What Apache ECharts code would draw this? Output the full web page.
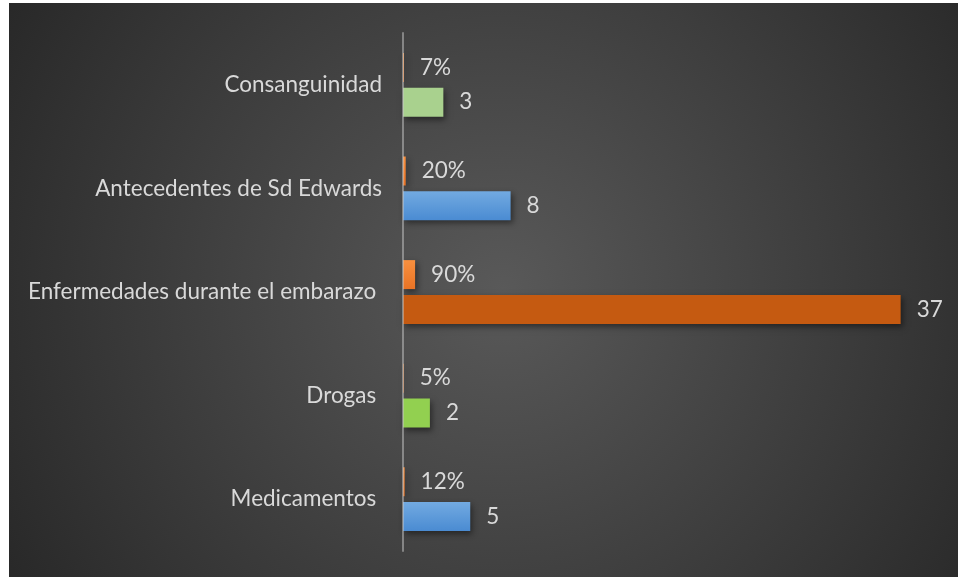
<!DOCTYPE html>
<html>
<head>
<meta charset="utf-8">
<script src="https://cdn.jsdelivr.net/npm/echarts@6/dist/echarts.min.js"></script>
<style>
  html, body { margin: 0; padding: 0; background: #ffffff; width: 958px; height: 577px; overflow: hidden; }
  #chart {
    position: absolute; left: 9px; top: 3px; width: 949px; height: 574px;
    background: radial-gradient(circle 600px at 52% 50%, #595959 0%, #3d3d3d 55%, #262626 100%);
  }
</style>
</head>
<body>
<div id="chart"></div>
<script>
// Factores de riesgo: casos y porcentaje
const categories = ['Consanguinidad', 'Antecedentes de Sd Edwards', 'Enfermedades durante el embarazo ', 'Drogas ', 'Medicamentos '];
const casos = [3, 8, 37, 2, 5];
const porcentajes = [7, 20, 90, 5, 12];

const blueGradient = { type: 'linear', x: 0, y: 0, x2: 0, y2: 1, colorStops: [{ offset: 0, color: '#72aae1' }, { offset: 1, color: '#4a8bd2' }] };
const caseColors = ['#a9d18e', blueGradient, '#c55a11', '#92d050', blueGradient];
const pctColor = { type: 'linear', x: 0, y: 0, x2: 0, y2: 1, colorStops: [{ offset: 0, color: '#f8903f' }, { offset: 1, color: '#e97325' }] };

const textColor = '#d9d9d9';
const fontFamily = 'Lato, "Open Sans", sans-serif';
const fontSize = 22.5;
const shadow = { shadowColor: 'rgba(0,0,0,0.45)', shadowBlur: 6, shadowOffsetX: 2, shadowOffsetY: 3 };

const chart = echarts.init(document.getElementById('chart'), null, { renderer: 'canvas' });
chart.setOption({
  backgroundColor: 'transparent',
  animation: false,
  grid: { left: 394, right: 17, top: 30, bottom: 26, containLabel: false },
  xAxis: {
    type: 'value', min: 0, max: 40,
    show: false
  },
  yAxis: {
    type: 'category',
    data: categories,
    inverse: true,
    z: 10,
    axisLine: { show: true, lineStyle: { color: 'rgba(200,200,200,0.5)', width: 2 } },
    axisTick: { show: false },
    axisLabel: { color: textColor, fontSize: fontSize, fontFamily: fontFamily, margin: 21 },
    splitLine: { show: false }
  },
  series: [
    {
      name: 'Porcentaje',
      type: 'bar',
      barWidth: 29,
      barGap: '20%',
      data: porcentajes.map(p => p / 100),
      itemStyle: Object.assign({ color: pctColor }, shadow),
      label: {
        show: true, position: 'right', distance: 16,
        color: textColor, fontSize: fontSize, fontFamily: fontFamily,
        formatter: p => porcentajes[p.dataIndex] + '%'
      }
    },
    {
      name: 'Casos',
      type: 'bar',
      barWidth: 29,
      data: casos.map((v, i) => ({ value: v, itemStyle: { color: caseColors[i] } })),
      itemStyle: shadow,
      label: {
        show: true, position: 'right', distance: 16,
        color: textColor, fontSize: fontSize, fontFamily: fontFamily
      }
    }
  ]
});
</script>
</body>
</html>
